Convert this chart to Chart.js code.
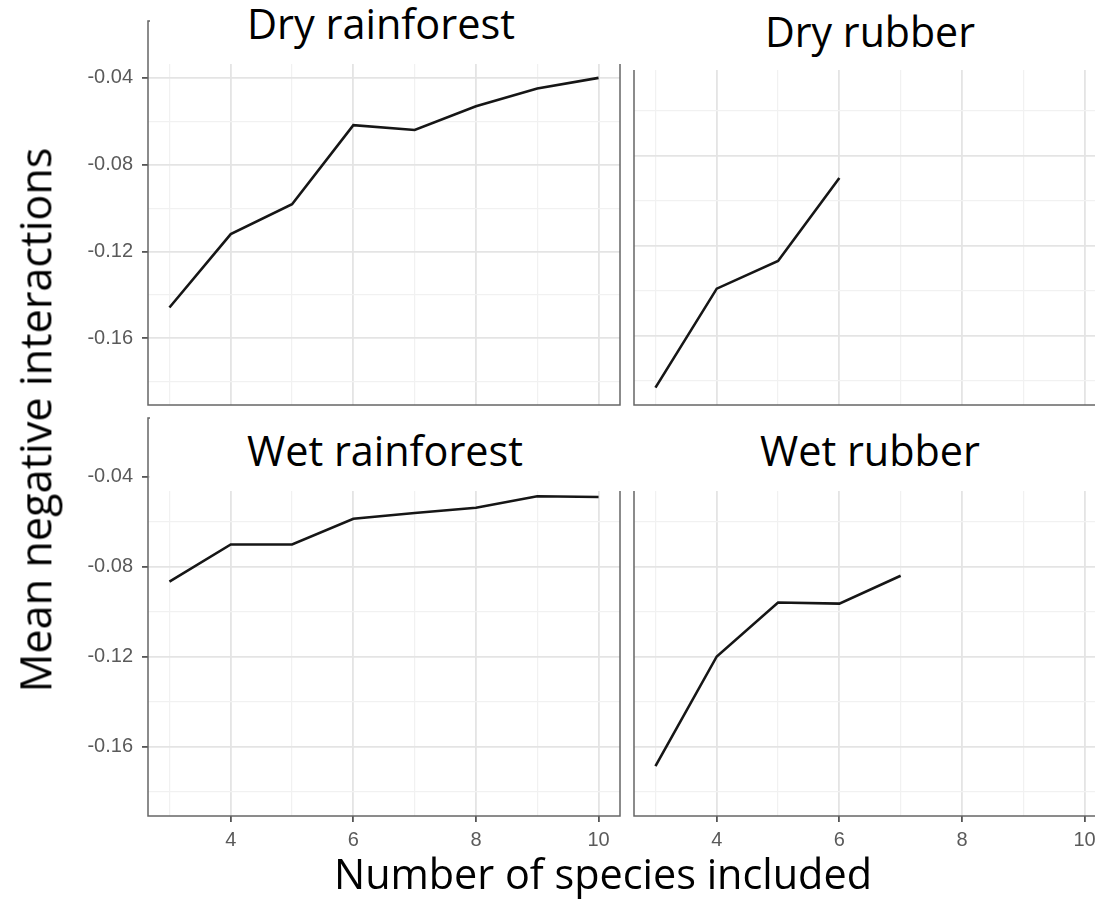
<!DOCTYPE html>
<html>
<head>
<meta charset="utf-8">
<script src="https://cdn.jsdelivr.net/npm/chart.js@4.4.1/dist/chart.umd.min.js"></script>
<style>
  html, body { margin: 0; padding: 0; background: #fff; width: 1095px; height: 911px; overflow: hidden; }
  #stage { position: relative; width: 1095px; height: 911px; overflow: hidden; }
  #stage canvas { position: absolute; left: 0; top: 0; }
  .cover { position: absolute; background: #fff; }
  .label { position: absolute; white-space: nowrap; line-height: 1; color: #000; font-family: 'Open Sans', Lato, sans-serif; }
</style>
</head>
<body>
<div id="stage">
  <canvas id="panelDryRainforest" width="1120" height="911"></canvas>
  <canvas id="panelDryRubber" width="1120" height="911"></canvas>
  <canvas id="panelWetRainforest" width="1120" height="911"></canvas>
  <canvas id="panelWetRubber" width="1120" height="911"></canvas>
  <div class="cover" style="left:150px;top:0;width:475px;height:64px"></div>
  <div class="cover" style="left:625px;top:0;width:470px;height:70px"></div>
  <div class="cover" style="left:150px;top:409px;width:475px;height:82px"></div>
  <div class="cover" style="left:625px;top:409px;width:470px;height:82px"></div>
</div>
<script>
// Datos (facetas ggplot)
const speciesDryRainforest = [3, 4, 5, 6, 7, 8, 9, 10];
const meanDryRainforest = [-0.1458, -0.112, -0.0982, -0.0618, -0.064, -0.0531, -0.0449, -0.040];

const speciesDryRubber = [3, 4, 5, 6];
const meanDryRubber = [-0.183, -0.139, -0.1267, -0.0898];

const speciesWetRainforest = [3, 4, 5, 6, 7, 8, 9, 10];
const meanWetRainforest = [-0.0865, -0.070, -0.070, -0.0586, -0.056, -0.0537, -0.0486, -0.0489];

const speciesWetRubber = [3, 4, 5, 6, 7];
const meanWetRubber = [-0.1685, -0.1198, -0.0958, -0.0963, -0.0839];

const xMajorTicks = [4, 6, 8, 10];
const xMinorTicks = [3, 5, 7, 9];
const yMajorTicks = [-0.16, -0.12, -0.08, -0.04];
const yMinorTicks = [-0.18, -0.14, -0.10, -0.06];

(function(){
  const X_MIN = 2.65, X_MAX = 10.35;
  const Y_MIN = -0.1907, Y_MAX = -0.0138;
  const GRID_MAYOR = '#e4e4e4';
  const GRID_MENOR = '#f1f1f1';
  const fuenteTicks = { family: "'Liberation Sans', Arial, sans-serif", size: 20 };

  const esMayor = (lista, v) => lista.some(m => Math.abs(m - v) < 1e-9);
  const unir = (a, b) => a.concat(b).sort((p, q) => p - q).map(v => ({ value: v }));

  // marco del panel (theme_bw)
  const marco = {
    id: 'marco',
    afterDraw(chart) {
      const { ctx, chartArea: a } = chart;
      ctx.save();
      ctx.strokeStyle = '#666';
      ctx.lineWidth = 1.5;
      ctx.strokeRect(a.left, a.top, a.right - a.left, a.bottom - a.top);
      ctx.restore();
    }
  };

  const crearPanel = (id, area, xs, ys, conX, conY) => {
    const canvas = document.getElementById(id);
    const W = canvas.width, H = canvas.height;
    new Chart(canvas, {
      type: 'line',
      data: {
        datasets: [{
          data: xs.map((x, i) => ({ x: x, y: ys[i] })),
          borderColor: '#161616', borderWidth: 2.6, pointRadius: 0, tension: 0, fill: false
        }]
      },
      options: {
        responsive: false, animation: false, events: [],
        layout: { padding: { left: 0, top: area.t, right: W - area.r, bottom: 0 } },
        plugins: { legend: { display: false }, tooltip: { enabled: false } },
        scales: {
          x: {
            type: 'linear', min: X_MIN, max: X_MAX,
            afterBuildTicks: (s) => { s.ticks = unir(xMinorTicks, xMajorTicks); },
            afterFit: (s) => { s.height = H - area.b; },
            border: { display: false },
            grid: {
              color: (c) => esMayor(xMajorTicks, c.tick.value) ? GRID_MAYOR : GRID_MENOR,
              lineWidth: (c) => esMayor(xMajorTicks, c.tick.value) ? 1.8 : 1.2,
              drawTicks: conX, tickLength: 6,
              tickColor: (c) => esMayor(xMajorTicks, c.tick.value) ? '#555' : 'rgba(0,0,0,0)'
            },
            ticks: {
              display: conX, autoSkip: false, maxRotation: 0, padding: 6, color: '#5a5a5a', font: fuenteTicks,
              callback: (v) => esMayor(xMajorTicks, v) ? String(v) : ''
            }
          },
          y: {
            type: 'linear', min: Y_MIN, max: Y_MAX,
            afterBuildTicks: (s) => { s.ticks = unir(yMinorTicks, yMajorTicks); },
            afterFit: (s) => { s.width = area.l; },
            border: { display: false },
            grid: {
              color: (c) => esMayor(yMajorTicks, c.tick.value) ? GRID_MAYOR : GRID_MENOR,
              lineWidth: (c) => esMayor(yMajorTicks, c.tick.value) ? 1.8 : 1.2,
              drawTicks: conY, tickLength: 6,
              tickColor: (c) => esMayor(yMajorTicks, c.tick.value) ? '#555' : 'rgba(0,0,0,0)'
            },
            ticks: {
              display: conY, autoSkip: false, padding: 9, color: '#5a5a5a', font: fuenteTicks,
              callback: (v) => esMayor(yMajorTicks, v) ? v.toFixed(2) : ''
            }
          }
        }
      },
      plugins: [marco]
    });
  };

  crearPanel('panelDryRainforest', { l: 148, r: 620, t: 7, b: 405 }, speciesDryRainforest, meanDryRainforest, false, true);
  crearPanel('panelDryRubber', { l: 634, r: 1106, t: 7, b: 405 }, speciesDryRubber, meanDryRubber, false, false);
  crearPanel('panelWetRainforest', { l: 148, r: 620, t: 418, b: 816 }, speciesWetRainforest, meanWetRainforest, true, true);
  crearPanel('panelWetRubber', { l: 634, r: 1106, t: 418, b: 816 }, speciesWetRubber, meanWetRubber, true, false);

  // textos: tamaño ajustado al ancho medido en la imagen
  const familia = "'Open Sans', Lato, sans-serif";
  const ctxMedida = document.createElement('canvas').getContext('2d');
  const stage = document.getElementById('stage');

  const ponerTexto = (texto, cx, base, ancho, rotado) => {
    ctxMedida.font = `100px ${familia}`;
    const size = 100 * ancho / ctxMedida.measureText(texto).width;
    ctxMedida.font = `${size}px ${familia}`;
    const m = ctxMedida.measureText(texto);
    const asc = m.fontBoundingBoxAscent, desc = m.fontBoundingBoxDescent;
    const el = document.createElement('div');
    el.className = 'label';
    el.textContent = texto;
    el.style.fontSize = size + 'px';
    if (rotado) {
      el.style.left = cx + 'px';
      el.style.top = base + 'px';
      el.style.transform = 'translate(-50%, -50%) rotate(-90deg)';
    } else {
      const desdeArriba = (size - (asc + desc)) / 2 + asc;
      el.style.left = (cx - ancho / 2) + 'px';
      el.style.top = (base - desdeArriba) + 'px';
    }
    stage.appendChild(el);
  };

  ponerTexto('Dry rainforest', 381, 40, 268, false);
  ponerTexto('Dry rubber', 870, 48, 210, false);
  ponerTexto('Wet rainforest', 385, 467, 276, false);
  ponerTexto('Wet rubber', 870, 467, 220, false);
  ponerTexto('Number of species included', 603, 890, 538, false);
  ponerTexto('Mean negative interactions', 35, 420, 545, true);
})();
</script>
</body>
</html>
